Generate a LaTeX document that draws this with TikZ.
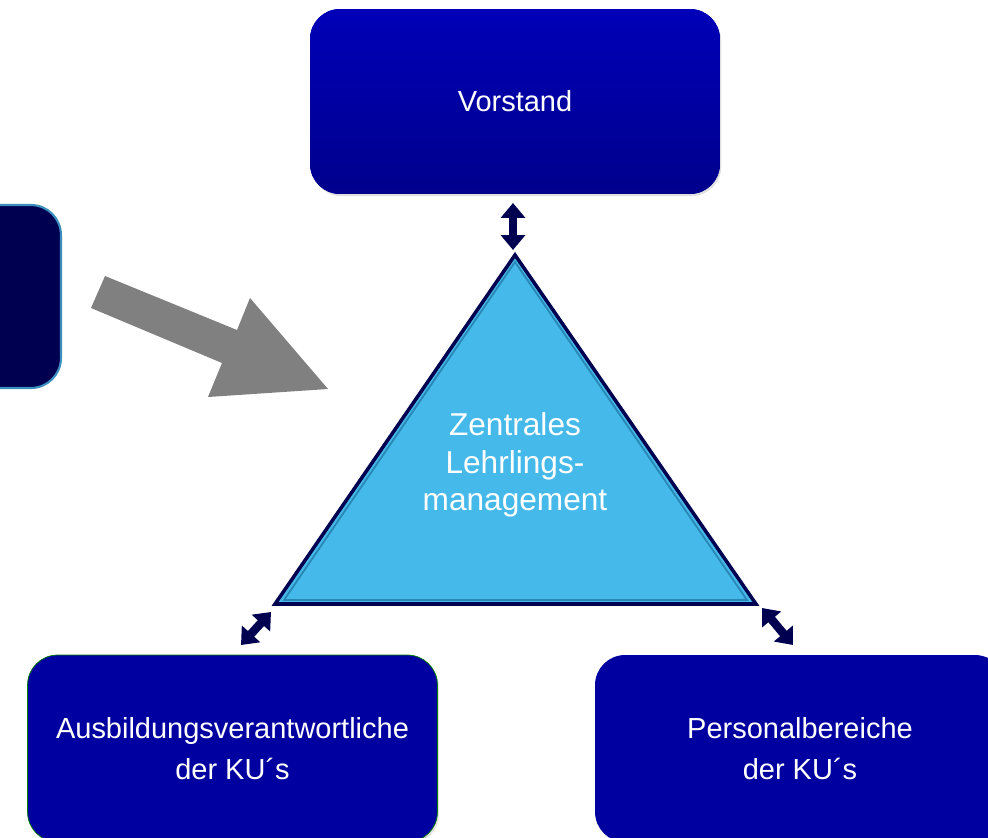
\documentclass[tikz,border=0pt]{standalone}
\usepackage{fontspec}
\setmainfont{Liberation Sans}
\usetikzlibrary{arrows.meta, positioning, calc, shadows}

\definecolor{navyDark}{RGB}{0,0,80}
\definecolor{boxTop}{RGB}{0,0,184}
\definecolor{boxBottom}{RGB}{0,0,140}
\definecolor{boxFlat}{RGB}{0,0,160}
\definecolor{triFill}{RGB}{69,185,233}
\definecolor{triInner}{RGB}{40,135,180}
\definecolor{lmBorder}{RGB}{58,143,191}
\definecolor{arrowGray}{RGB}{128,128,128}

\begin{document}
\begin{tikzpicture}[
    x=0.02cm, y=-0.02cm,
    blueBox/.style={rectangle, rounded corners=0.6cm, fill=boxFlat,
        text=white, align=center, font=\fontsize{16.5}{23}\selectfont,
        minimum width=8.2cm, drop shadow={opacity=0.25, shadow xshift=0.8pt, shadow yshift=-1.2pt}},
    darkBox/.style={rectangle, rounded corners=0.6cm, fill=navyDark, draw=lmBorder, line width=1.2pt,
        minimum width=8.2cm, minimum height=3.66cm},
    dblArrow/.style={{Triangle[width=4.8mm, length=3mm]}-{Triangle[width=4.8mm, length=3mm]},
        line width=1.7mm, navyDark}
]
    \useasboundingbox (0,0) rectangle (988,838);
    \clip (0,0) rectangle (988,838);

    % --- TOP: VORSTAND ---
    \node[blueBox, top color=boxTop, bottom color=boxBottom, minimum height=3.7cm] (vorstand) at (515,101.5) {Vorstand};

    % --- LEFT: CUT-OFF BOX AND GRAY ARROW ---
    \node[darkBox] (lm) at (-144,296.5) {};
    \fill[arrowGray] (105,276) -- (237,330) -- (250,298) -- (328,389)
        -- (208,397) -- (222,363) -- (91,308) -- cycle;

    % --- CENTER: TRIANGLE ---
    \coordinate (apex) at (515,255);
    \coordinate (triL) at (275,604);
    \coordinate (triR) at (756,604);
    \fill[triFill] (apex) -- (triL) -- (triR) -- cycle;
    \draw[triInner, line width=1pt] ($(apex)+(0,7)$) -- ($(triL)+(9,-4)$) -- ($(triR)+(-9,-4)$) -- cycle;
    \draw[navyDark, line width=2pt, line join=miter] (apex) -- (triL) -- (triR) -- cycle;
    \node[text=white, align=center, font=\fontsize{18}{21.2}\selectfont] (zlm) at (515,465)
        {Zentrales\\Lehrlings-\\management};

    % --- BOTTOM BOXES ---
    \node[blueBox, minimum height=3.74cm, draw=green!50!black, line width=0.4pt] (ausb) at (232.5,748.5)
        {Ausbildungsverantwortliche\\der KU´s};
    \node[blueBox, minimum height=3.74cm] (pers) at (800,748.5)
        {Personalbereiche\\der KU´s};

    % --- DOUBLE ARROWS ---
    \coordinate (vTop) at (513,203);
    \coordinate (vBot) at (513,250);
    \coordinate (lTop) at (271,612);
    \coordinate (lBot) at (241,645);
    \coordinate (rTop) at (762,608);
    \coordinate (rBot) at (793,645);
    \draw[dblArrow] (vTop) -- (vBot);
    \draw[dblArrow] (lTop) -- (lBot);
    \draw[dblArrow] (rTop) -- (rBot);

\end{tikzpicture}
\end{document}
